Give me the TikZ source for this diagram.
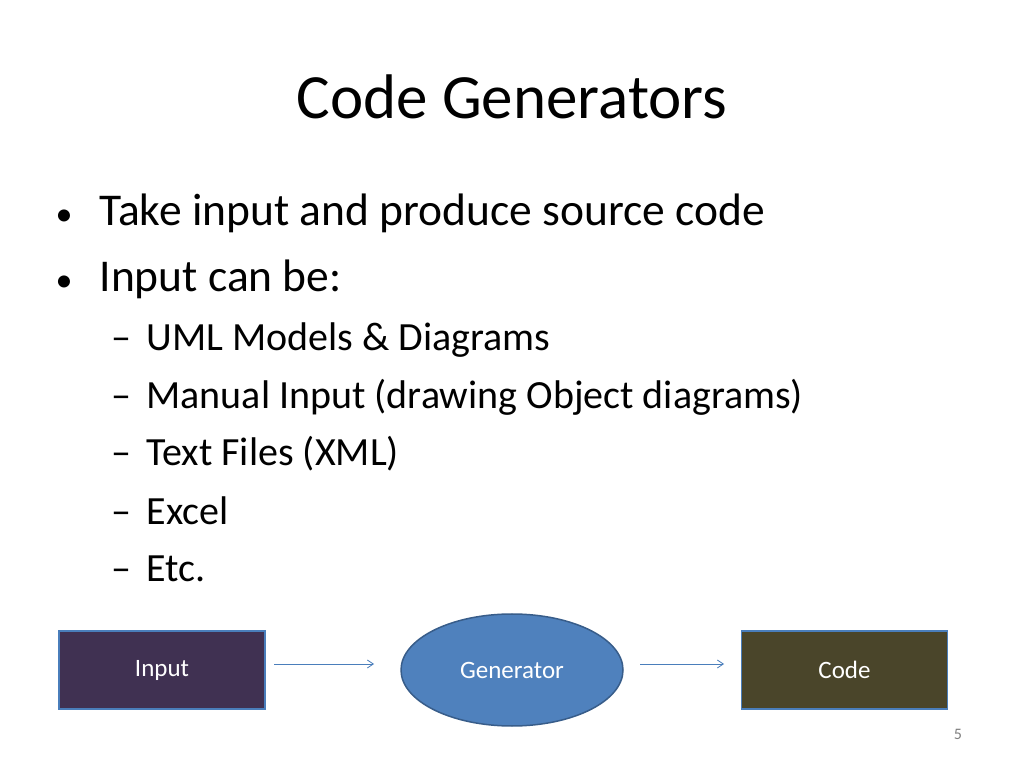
\documentclass[tikz,border=0pt]{standalone}
\usepackage{fontspec}
\setmainfont{Carlito}
\usetikzlibrary{shapes.geometric,arrows.meta}
\definecolor{inpc}{HTML}{403152}
\definecolor{codec}{HTML}{4A452A}
\definecolor{genc}{HTML}{4F81BD}
\definecolor{gend}{HTML}{385D8A}
\definecolor{edgec}{HTML}{4A7EBB}
\tikzset{
 box/.style={draw=edgec,line width=1.5pt,minimum width=206pt,minimum height=78pt,text=white,font=\fontsize{25}{28}\selectfont},
 conn/.style={draw=edgec,line width=0.8pt,-{Straight Barb[length=6pt,width=8pt]}},
 bul/.style={anchor=west,font=\fontsize{45.5}{50}\selectfont},
 sub/.style={anchor=west,font=\fontsize{40}{44}\selectfont}
}
\begin{document}
\begin{tikzpicture}[x=1pt,y=1pt]
\useasboundingbox[fill=white] (0,0) rectangle (1024,768);
\node[font=\fontsize{63}{70}\selectfont] (title) at (512,671) {Code Generators};
\node[bul] (b1) at (52,555) {\makebox[44pt][l]{\fontsize{34}{40}\selectfont•}Take input and produce source code};
\node[bul] (b2) at (52,489) {\makebox[44pt][l]{\fontsize{34}{40}\selectfont•}Input can be:};
\node[sub] (s1) at (108,428) {\makebox[35pt][l]{–}UML Models \& Diagrams};
\node[sub] (s2) at (108,371) {\makebox[35pt][l]{–}Manual Input (drawing Object diagrams)};
\node[sub] (s3) at (108,314) {\makebox[35pt][l]{–}Text Files (XML)};
\node[sub] (s4) at (108,257) {\makebox[35pt][l]{–}Excel};
\node[sub] (s5) at (108,199) {\makebox[35pt][l]{–}Etc.};
\node[box,fill=inpc] (inp) at (162,98) {Input};
\node[box,fill=codec] (code) at (844.5,98) {Code};
\node[ellipse,draw=gend,line width=1.5pt,fill=genc,minimum width=222pt,minimum height=112pt,text=white,font=\fontsize{25}{28}\selectfont] (gen) at (512,98) {Generator};
\coordinate (a1) at (274,104);
\coordinate (a2) at (374,104);
\coordinate (a3) at (640,104);
\coordinate (a4) at (724,104);
\draw[conn] (a1) -- (a2);
\draw[conn] (a3) -- (a4);
\node[text=gray,font=\fontsize{16}{18}\selectfont] (pg) at (958,34) {5};
\end{tikzpicture}
\end{document}
